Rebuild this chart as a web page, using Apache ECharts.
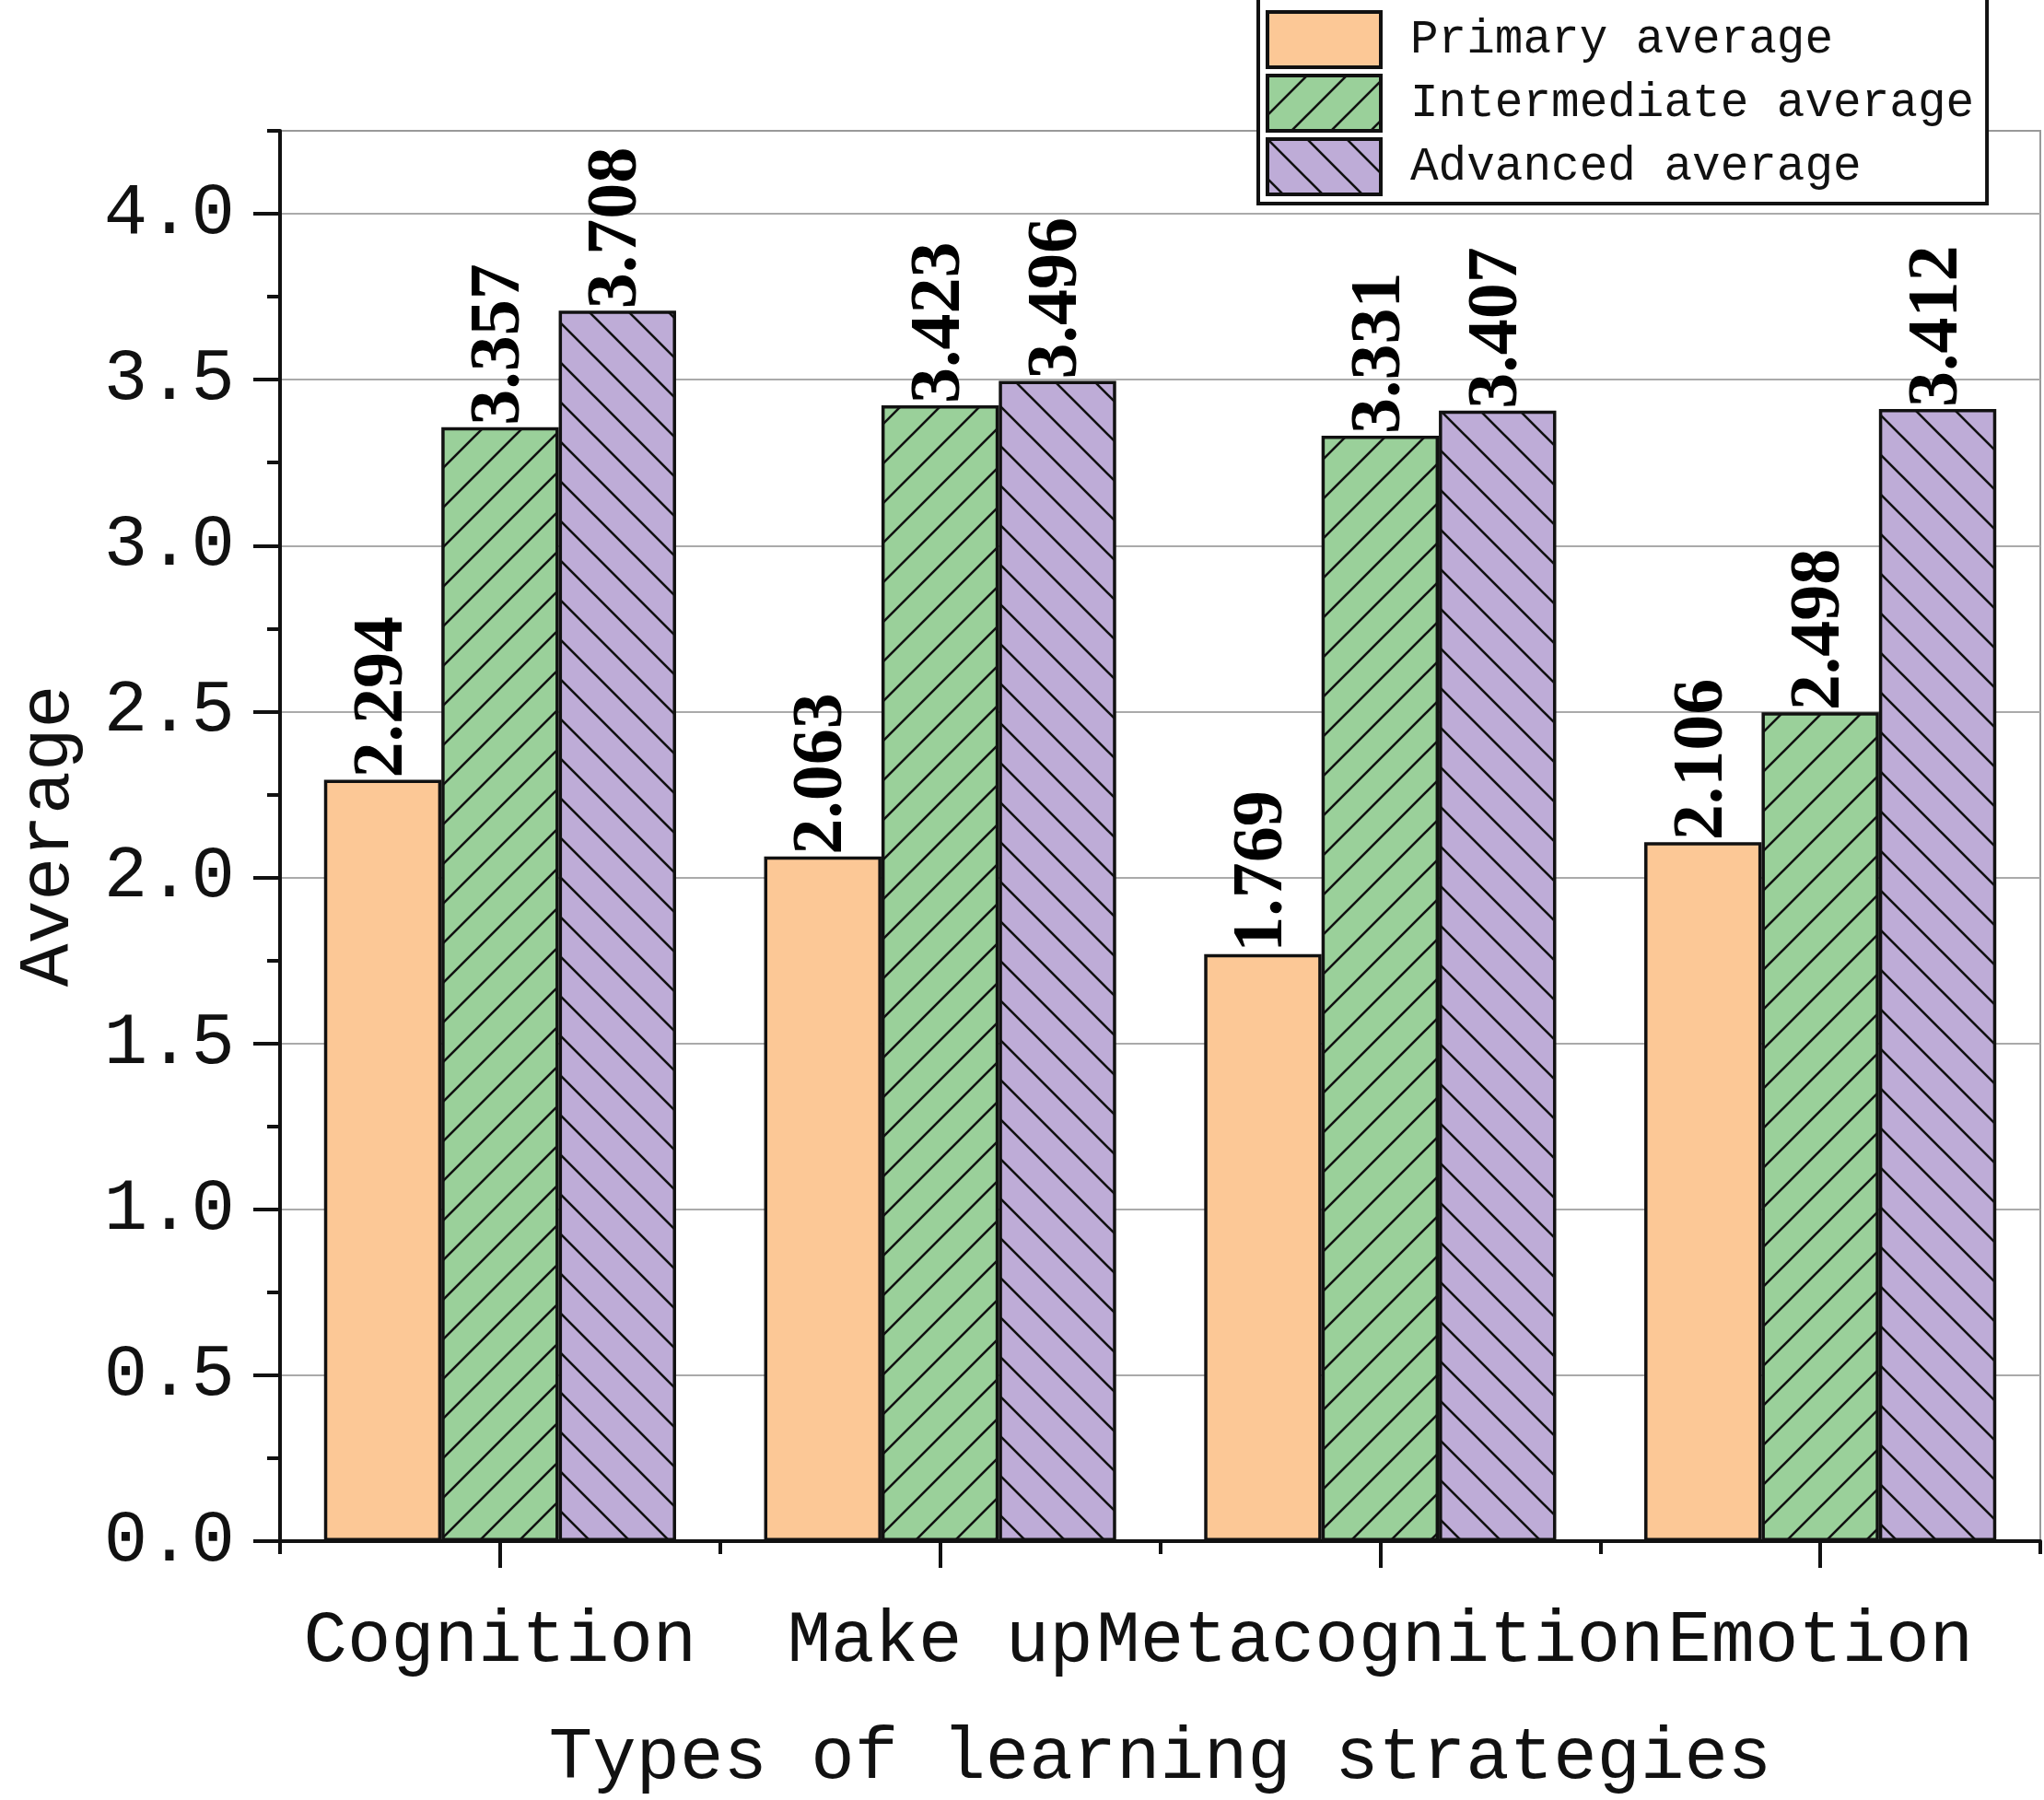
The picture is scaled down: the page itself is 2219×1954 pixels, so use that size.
<!DOCTYPE html>
<html>
<head>
<meta charset="utf-8">
<script src="https://cdn.jsdelivr.net/npm/echarts@6/dist/echarts.min.js"></script>
<style>
  html, body { margin: 0; padding: 0; background: #fff; }
  #chart { width: 2219px; height: 1954px; }
</style>
</head>
<body>
<div id="chart"></div>
<script>
var categories = ['Cognition', 'Make up', 'Metacognition', 'Emotion'];
var seriesNames = ['Primary average', 'Intermediate average', 'Advanced average'];
var primaryValues = [2.294, 2.063, 1.769, 2.106];
var intermediateValues = [3.357, 3.423, 3.331, 2.498];
var advancedValues = [3.708, 3.496, 3.407, 3.412];
var yMajorTicks = [0, 0.5, 1.0, 1.5, 2.0, 2.5, 3.0, 3.5, 4.0];
var yMinorTicks = [0.25, 0.75, 1.25, 1.75, 2.25, 2.75, 3.25, 3.75, 4.25];

var monoFont = '"Liberation Mono", "DejaVu Sans Mono", monospace';
var serifFont = '"Liberation Serif", "DejaVu Serif", serif';

// hatch tile: bg colour + one 45 degree line per tile
function hatch(bg, dir) {
  var S = 43;
  var c = document.createElement('canvas');
  c.width = S; c.height = S;
  var ctx = c.getContext('2d');
  ctx.fillStyle = bg;
  ctx.fillRect(0, 0, S, S);
  ctx.strokeStyle = '#111';
  ctx.lineWidth = 2.6;
  ctx.beginPath();
  if (dir === '/') {
    [0, S, 2 * S].forEach(function (k) {
      ctx.moveTo(-3, k + 3);
      ctx.lineTo(k + 3, -3);
    });
  } else {
    [-S, 0, S].forEach(function (k) {
      ctx.moveTo(-3, k - 3);
      ctx.lineTo(S + 3, k + S + 3);
    });
  }
  ctx.stroke();
  return { image: c, repeat: 'repeat' };
}

var fills = ['#FCC896', hatch('#9AD09A', '/'), hatch('#BEACD7', '\\')];
var dataSets = [primaryValues, intermediateValues, advancedValues];

var chart = echarts.init(document.getElementById('chart'));

var series = dataSets.map(function (vals, i) {
  return {
    name: seriesNames[i],
    type: 'bar',
    xAxisIndex: 0,
    yAxisIndex: 0,
    data: vals,
    barGap: '0%',
    barCategoryGap: '20%',
    itemStyle: { color: fills[i], borderColor: '#111', borderWidth: 3.5 },
    label: {
      show: true,
      position: 'top',
      rotate: 90,
      align: 'left',
      verticalAlign: 'middle',
      distance: 2,
      color: '#000',
      fontFamily: serifFont,
      fontWeight: 'bold',
      fontSize: 78,
      formatter: function (p) { return p.value.toFixed(3); }
    }
  };
});

chart.setOption({
  backgroundColor: '#fff',
  animation: false,
  grid: {
    left: 304, right: 4, top: 142, bottom: 273,
    show: true, borderColor: '#999', borderWidth: 2
  },
  legend: {
    orient: 'vertical',
    left: 1366,
    top: -4,
    icon: 'rect',
    itemWidth: 123,
    itemHeight: 60,
    itemGap: 5,
    padding: [15, 14, 8, 8],
    backgroundColor: '#fff',
    borderColor: '#111',
    borderWidth: 4,
    itemStyle: { borderColor: '#111', borderWidth: 4 },
    textStyle: {
      fontFamily: monoFont, fontSize: 51, color: '#111',
      padding: [0, 0, 0, 27]
    },
    data: seriesNames
  },
  xAxis: [{
    type: 'category',
    data: categories,
    position: 'bottom',
    name: 'Types of learning strategies',
    nameLocation: 'middle',
    nameGap: 197,
    nameTextStyle: { fontFamily: monoFont, fontSize: 79, color: '#111' },
    axisLine: { show: true, lineStyle: { color: '#111', width: 4 } },
    axisTick: { show: true, alignWithLabel: false, length: 14, lineStyle: { color: '#111', width: 4 } },
    axisLabel: { fontFamily: monoFont, fontSize: 79, color: '#111', margin: 70, interval: 0 },
    splitLine: { show: false }
  }, {
    type: 'category',
    data: categories,
    position: 'bottom',
    axisLine: { show: false },
    axisTick: { show: true, alignWithLabel: true, length: 29, lineStyle: { color: '#111', width: 4 } },
    axisLabel: { show: false },
    splitLine: { show: false }
  }],
  yAxis: [{
    type: 'value',
    min: 0,
    max: 4.25,
    interval: 0.5,
    position: 'left',
    name: 'Average',
    nameLocation: 'middle',
    nameGap: 212,
    nameTextStyle: { fontFamily: monoFont, fontSize: 78, color: '#111' },
    axisLine: { show: true, lineStyle: { color: '#111', width: 4 } },
    axisTick: { show: true, length: 29, customValues: yMajorTicks, lineStyle: { color: '#111', width: 4 } },
    axisLabel: {
      fontFamily: monoFont, fontSize: 79, color: '#111', margin: 49,
      customValues: yMajorTicks,
      formatter: function (v) { return v.toFixed(1); }
    },
    splitLine: { show: true, lineStyle: { color: '#aaa', width: 2 } }
  }, {
    type: 'value',
    min: 0,
    max: 4.25,
    position: 'left',
    axisLine: { show: false },
    axisTick: { show: true, length: 14, customValues: yMinorTicks, lineStyle: { color: '#111', width: 4 } },
    axisLabel: { show: false },
    splitLine: { show: false }
  }],
  series: series
});
</script>
</body>
</html>
